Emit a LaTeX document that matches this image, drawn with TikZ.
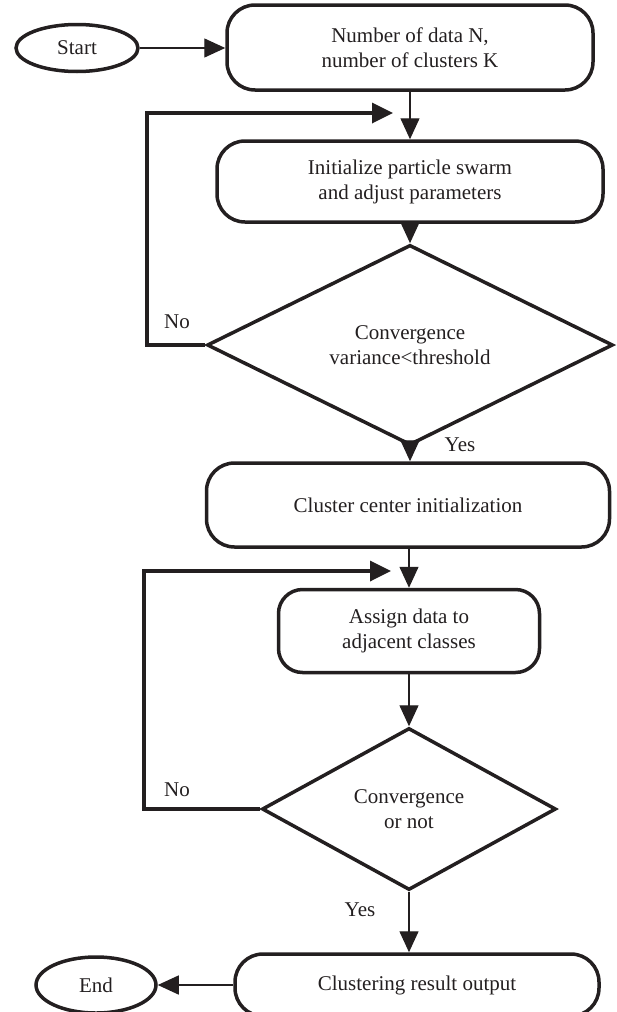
\documentclass[tikz,border=0pt]{standalone}
\usepackage{fontspec}
\setmainfont{Liberation Serif}
\usetikzlibrary{shapes.geometric,arrows.meta}
\definecolor{ink}{HTML}{231F20}
\begin{document}
\begin{tikzpicture}[x=1pt,y=-1pt,
  every node/.style={font=\fontsize{21}{25}\selectfont, text=ink},
  proc/.style={draw=ink, line width=3.5pt, rectangle, rounded corners=28pt, align=center, inner sep=0pt},
  term/.style={draw=ink, line width=3.5pt, ellipse, inner sep=0pt},
  decision/.style={draw=ink, line width=3.5pt, diamond, align=center, inner sep=0pt},
  flow/.style={draw=ink, line width=1.4pt, -{Triangle[length=21pt,width=19pt]}},
  loopback/.style={draw=ink, line width=3.5pt, -{Triangle[length=21pt,width=20pt]}},
  lbl/.style={inner sep=0pt}]
\useasboundingbox (0,0) rectangle (616,1012);
\clip (0,0) rectangle (616,1012);

\node[term, minimum width=122pt, minimum height=47pt] (start) at (77,48) {Start};
\node[proc, minimum width=366pt, minimum height=85pt] (b1) at (410,47.5) {Number of data N,\\number of clusters K};
\node[proc, minimum width=386pt, minimum height=81pt] (b2) at (410,181.5) {Initialize particle swarm\\and adjust parameters};
\node[decision, minimum width=406pt, minimum height=164pt] (d1) at (410,345) {Convergence\\variance<threshold};
\node[proc, minimum width=403pt, minimum height=84pt] (b3) at (408,505) {Cluster center initialization};
\node[proc, minimum width=261pt, minimum height=83pt, rounded corners=24pt] (b4) at (409,631) {Assign data to\\adjacent classes};
\node[decision, minimum width=294pt, minimum height=162pt] (d2) at (409,809) {Convergence\\or not};
\node[proc, minimum width=364pt, minimum height=62pt] (b5) at (417,985) {Clustering result output};
\node[term, minimum width=120pt, minimum height=56pt] (end) at (96,985) {End};

\node[lbl] (no1) at (177,322) {No};
\node[lbl] (yes1) at (460,445) {Yes};
\node[lbl] (no2) at (177,790) {No};
\node[lbl] (yes2) at (360,910) {Yes};

\draw[flow] (start.east) -- (start.east -| b1.west);
\draw[flow] (b1.south) -- (b2.north);
\draw[flow] (b2.south) -- (d1.north);
\draw[flow] (d1.south) -- (d1.south |- b3.north);
\draw[flow] (b3.south -| b4.north) -- (b4.north);
\draw[flow] (b4.south) -- (d2.north);
\draw[flow] (d2.south) -- (d2.south |- b5.north);
\draw[flow] (b5.west) -- (end.east);

\coordinate (c1) at (147,113);
\coordinate (t1) at (393,113);
\draw[loopback] (d1.west) -| (c1) -- (t1);
\coordinate (c2) at (144,571);
\coordinate (t2) at (391,571);
\draw[loopback] (d2.west) -| (c2) -- (t2);
\end{tikzpicture}
\end{document}
